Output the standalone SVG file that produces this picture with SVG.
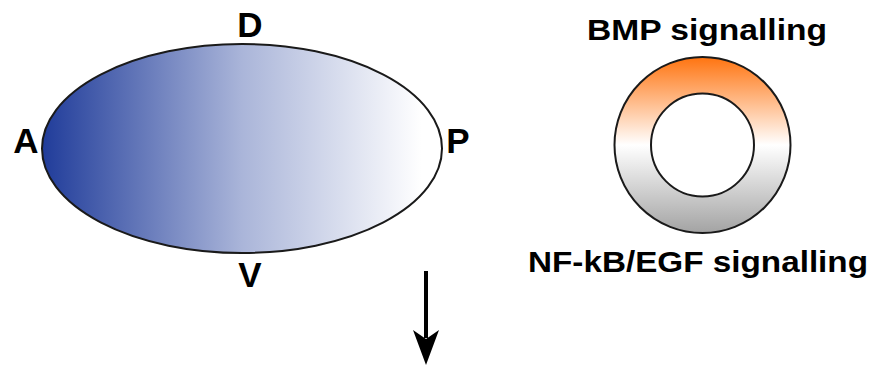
<svg xmlns="http://www.w3.org/2000/svg" width="874" height="365" viewBox="0 0 874 365">
<defs>
<linearGradient id="blueGrad" x1="0" y1="0" x2="1" y2="0">
<stop offset="0" stop-color="#203c9a"/>
<stop offset="0.5" stop-color="#aab5d9"/>
<stop offset="0.95" stop-color="#ffffff"/>
</linearGradient>
<linearGradient id="ringGrad" x1="0" y1="0" x2="0" y2="1">
<stop offset="0" stop-color="#ff7410"/>
<stop offset="0.5" stop-color="#ffffff"/>
<stop offset="1" stop-color="#a3a3a3"/>
</linearGradient>
<style>
.lbl{font-family:"Liberation Sans",Arial,sans-serif;font-weight:bold;fill:#000;text-anchor:middle}
.ax{font-size:35px}
.sig{font-size:30px}
</style>
</defs>
<rect width="874" height="365" fill="#ffffff"/>
<g id="embryo">
<ellipse cx="242" cy="148.5" rx="200" ry="104.5" fill="url(#blueGrad)" stroke="#1a1a1a" stroke-width="2"/>
</g>
<g id="label-D"><text class="lbl ax" x="250" y="37">D</text></g>
<g id="label-V"><text class="lbl ax" x="250" y="287">V</text></g>
<g id="label-A"><text class="lbl ax" x="26" y="153">A</text></g>
<g id="label-P"><text class="lbl ax" x="458" y="153">P</text></g>
<g id="ring">
<path d="M614.5,145 a88,88 0 1,0 176,0 a88,88 0 1,0 -176,0 Z M651,145 a51.5,51.5 0 1,1 103,0 a51.5,51.5 0 1,1 -103,0 Z" fill="url(#ringGrad)" fill-rule="evenodd" stroke="#1a1a1a" stroke-width="2"/>
</g>
<g id="label-bmp"><text class="lbl sig" x="707" y="39.5" textLength="240" lengthAdjust="spacingAndGlyphs">BMP signalling</text></g>
<g id="label-nfkb"><text class="lbl sig" x="698" y="272" textLength="340" lengthAdjust="spacingAndGlyphs">NF-kB/EGF signalling</text></g>
<g id="connectors">
<line x1="426" y1="271" x2="426" y2="338" stroke="#000" stroke-width="4"/>
<path d="M426,365 L413,330 L426,339 L439,330 Z" fill="#000"/>
</g>
</svg>
